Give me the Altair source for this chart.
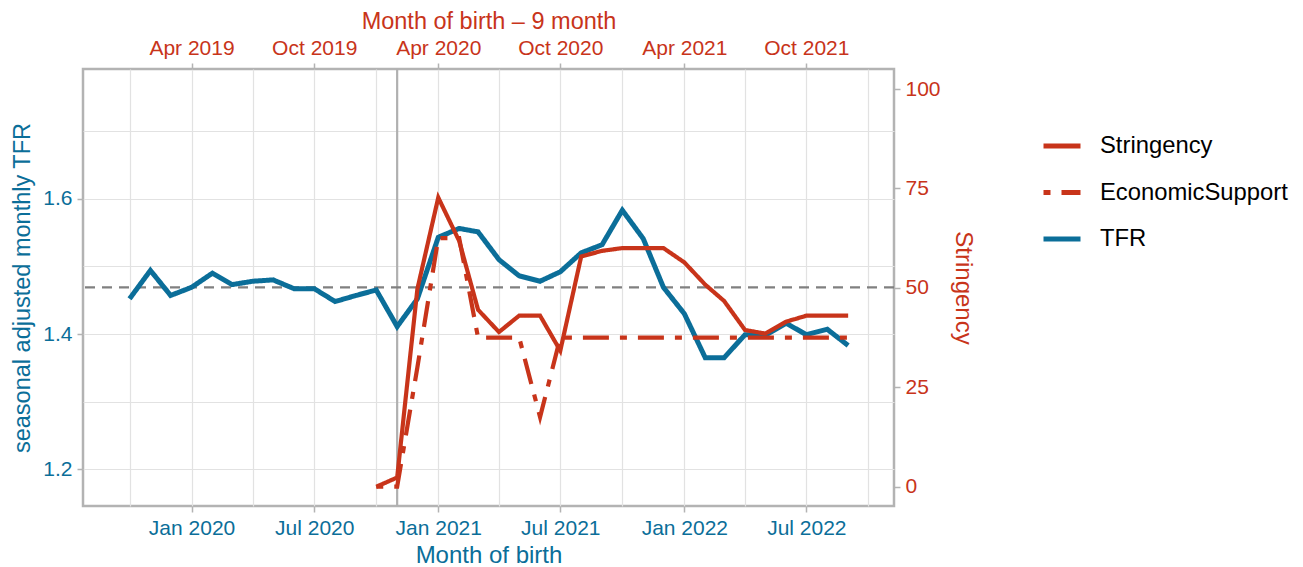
import altair as alt
import pandas as pd

RED = "#C8341A"
BLUE = "#0B6E99"
GRID = "#e2e2e2"
FRAME = "#b3b3b3"
FONT = "Liberation Sans"

# ---- data ---------------------------------------------------------------
tfr_dates = pd.date_range("2019-10-01", "2022-09-01", freq="MS").strftime("%Y-%m-%d").tolist()
tfr_values = [1.452, 1.494, 1.457, 1.469, 1.490, 1.473, 1.478, 1.480, 1.467, 1.467,
              1.448, 1.457, 1.465, 1.411, 1.452, 1.543, 1.556, 1.551, 1.510, 1.486,
              1.478, 1.492, 1.520, 1.532, 1.583, 1.541, 1.469, 1.430, 1.365, 1.365,
              1.399, 1.398, 1.416, 1.399, 1.407, 1.383]

policy_dates = pd.date_range("2020-10-01", "2022-09-01", freq="MS").strftime("%Y-%m-%d").tolist()
stringency = [0.0, 2.3, 49.7, 72.7, 61.8, 44.5, 38.9, 43.0, 43.0, 34.2, 57.9, 59.3,
              60.0, 60.0, 60.0, 56.4, 50.8, 46.7, 39.4, 38.5, 41.5, 43.0, 43.0, 43.0]
economic_support = [0.0, 0.0, 30.0, 62.5, 62.5, 37.5, 37.5, 37.5, 17.5, 37.5, 37.5, 37.5,
                    37.5, 37.5, 37.5, 37.5, 37.5, 37.5, 37.5, 37.5, 37.5, 37.5, 37.5, 37.5]

series_order = ["Stringency", "EconomicSupport", "TFR"]
mean_tfr = [1.469]
marker_date = ["2020-11-01"]

tfr_df = pd.DataFrame({"date": tfr_dates, "value": tfr_values, "series": "TFR"})
pol_df = pd.concat([
    pd.DataFrame({"date": policy_dates, "value": stringency, "series": "Stringency"}),
    pd.DataFrame({"date": policy_dates, "value": economic_support, "series": "EconomicSupport"}),
], ignore_index=True)
mean_df = pd.DataFrame({"value": mean_tfr})
vline_df = pd.DataFrame({"date": marker_date})

# ---- scales -------------------------------------------------------------
x_scale = alt.Scale(type="utc", domain=[alt.DateTime(year=2019, month=7, date=24, utc=True),
                                        alt.DateTime(year=2022, month=11, date=8, utc=True)])
tfr_scale = alt.Scale(domain=[1.1458, 1.7917], nice=False, zero=False)
str_scale = alt.Scale(domain=[-4.85, 105.03], nice=False, zero=False)

quarters = [alt.DateTime(year=y, month=m, date=1, utc=True)
            for y, m in [(2019, 10), (2020, 1), (2020, 4), (2020, 7), (2020, 10), (2021, 1),
                         (2021, 4), (2021, 7), (2021, 10), (2022, 1), (2022, 4), (2022, 7), (2022, 10)]]
halfyears = [alt.DateTime(year=y, month=m, date=1, utc=True)
             for y, m in [(2020, 1), (2020, 7), (2021, 1), (2021, 7), (2022, 1), (2022, 7)]]

common_axis = dict(domain=False, grid=False, tickColor=FRAME, tickWidth=1.5, tickSize=6,
                   labelFontSize=21, labelPadding=5,
                   titleFontWeight="normal", labelOverlap=False, labelFont=FONT, titleFont=FONT)
grid_axis = dict(grid=True, gridColor=GRID, gridWidth=1.2, labels=False, ticks=False,
                 domain=False, title=None)

x_grid_axis = alt.Axis(orient="bottom", values=quarters, **grid_axis)
y_grid_axis = alt.Axis(orient="left", values=[1.2, 1.3, 1.4, 1.5, 1.6, 1.7], **grid_axis)

bottom_axis = alt.Axis(
    orient="bottom", values=halfyears,
    labelExpr="utcFormat(datum.value, '%b %Y')", titleFontSize=24,
    labelColor=BLUE, title="Month of birth", titleColor=BLUE, titlePadding=5, **common_axis)

top_axis = alt.Axis(
    orient="top", values=halfyears,
    labelExpr="utcFormat(utc(utcyear(datum.value), utcmonth(datum.value) - 9, 1), '%b %Y')",
    labelColor=RED, title="Month of birth \u2013 9 month", titleColor=RED, titlePadding=4,
    titleFontSize=23.5, **common_axis)

left_axis = alt.Axis(
    orient="left", values=[1.2, 1.4, 1.6], format=".1f", titleFontSize=23.5,
    labelColor=BLUE, title="seasonal adjusted monthly TFR", titleColor=BLUE, titlePadding=8,
    **common_axis)

right_axis = alt.Axis(
    orient="right", values=[0, 25, 50, 75, 100], titleFontSize=24,
    labelColor=RED, title="Stringency", titleColor=RED, titlePadding=10, **common_axis)

legend = alt.Legend(title=None, orient="none", legendX=958, legendY=56, symbolType="stroke",
                    symbolSize=1369, symbolStrokeWidth=4.8, labelFontSize=23.8, labelColor="black",
                    labelFont=FONT, rowPadding=13.5, labelOffset=17, padding=0, labelLimit=400)

color_enc = alt.Color("series:N", scale=alt.Scale(domain=series_order, range=[RED, RED, BLUE]),
                      legend=legend)
dash_enc = alt.StrokeDash("series:N", scale=alt.Scale(domain=series_order,
                                                      range=[[1, 0], [7, 11, 26, 11], [1, 0]]),
                          legend=legend)

# ---- layers -------------------------------------------------------------
vline = alt.Chart(vline_df).mark_rule(color="#b0b0b0", strokeWidth=2.2).encode(
    x=alt.X("date:T", scale=x_scale, axis=x_grid_axis))
mean_rule = alt.Chart(mean_df).mark_rule(color="#808080", strokeWidth=2.2, strokeDash=[10, 7]).encode(
    y=alt.Y("value:Q", scale=tfr_scale, axis=y_grid_axis))
tfr_line = alt.Chart(tfr_df).mark_line(strokeWidth=5).encode(
    x=alt.X("date:T", scale=x_scale, axis=bottom_axis),
    y=alt.Y("value:Q", scale=tfr_scale, axis=left_axis),
    color=color_enc, strokeDash=dash_enc)
left_group = alt.layer(vline, mean_rule, tfr_line).resolve_axis(x="independent", y="independent")

pol_line = alt.Chart(pol_df).mark_line(strokeWidth=4.2).encode(
    x=alt.X("date:T", scale=x_scale, axis=top_axis),
    y=alt.Y("value:Q", scale=str_scale, axis=right_axis),
    color=color_enc, strokeDash=dash_enc)

chart = alt.layer(left_group, pol_line).resolve_scale(y="independent").resolve_axis(
    x="independent", y="independent"
).properties(
    width=811, height=437,
    autosize=alt.AutoSizeParams(type="none"),
    padding={"left": 75, "top": 61, "right": 400, "bottom": 60},
    background="white",
).configure(font=FONT).configure_view(stroke=FRAME, strokeWidth=2.5)

chart.save("out.html", embed_options={"renderer": "svg", "actions": False})
